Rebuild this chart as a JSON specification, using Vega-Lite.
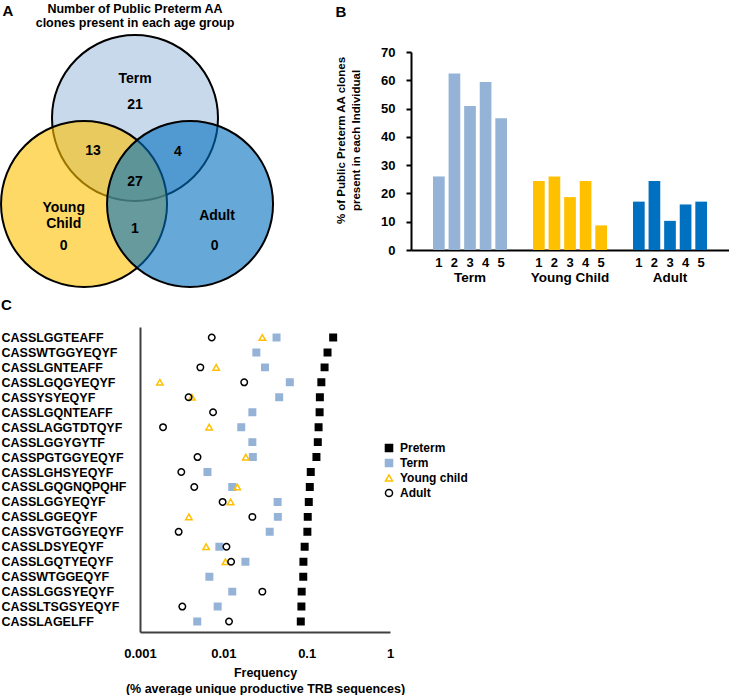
{
  "$schema": "https://vega.github.io/schema/vega-lite/v6.json",
  "padding": {"left": -3, "top": 2, "right": 0, "bottom": 0},
  "config": {
    "font": "Liberation Sans",
    "view": {"stroke": null},
    "axis": {"labelColor": "black", "titleColor": "black", "grid": false},
    "legend": {"orient": "none", "legendX": 243, "legendY": 115, "labelFontSize": 12, "labelFontWeight": "bold", "labelColor": "black", "symbolSize": 50, "symbolStrokeWidth": 1.5, "rowPadding": 1, "labelOffset": 5}
  },
  "spacing": 7,
  "resolve": {"scale": {"fill": "independent", "stroke": "independent", "shape": "independent", "color": "independent"}},
  "vconcat": [
    {
      "spacing": 29,
      "resolve": {"scale": {"fill": "independent", "color": "independent"}},
      "hconcat": [
        {
          "width": 166,
          "height": 166,
          "layer": [
            {
              "data": {"values": [
                {"set": "Term", "u": 0, "v": 0},
                {"set": "Young Child", "u": -0.614, "v": -1.036},
                {"set": "Adult", "u": 0.663, "v": -1.036}
              ]},
              "mark": {"type": "point", "shape": "circle", "size": 27556, "filled": true, "fillOpacity": 0.6, "opacity": 1, "stroke": "black", "strokeWidth": 2, "strokeOpacity": 1},
              "encoding": {
                "x": {"field": "u", "type": "quantitative", "scale": {"domain": [0.0602, 2.0602], "nice": false, "zero": false}, "axis": null},
                "y": {"field": "v", "type": "quantitative", "scale": {"domain": [-1.205, 0.795], "nice": false, "zero": false}, "axis": null},
                "fill": {"field": "set", "type": "nominal", "scale": {"domain": ["Term", "Young Child", "Adult"], "range": ["#a5bfdf", "#ffc000", "#0070c0"]}, "legend": null}
              }
            },
            {
              "data": {"values": [
                {"t": "Term", "u": 0, "v": 0.464},
                {"t": "21", "u": 0, "v": 0.153},
                {"t": "13", "u": -0.506, "v": -0.401},
                {"t": "4", "u": 0.518, "v": -0.41},
                {"t": "27", "u": 0, "v": -0.775},
                {"t": "Young", "u": -0.859, "v": -1.084},
                {"t": "Child", "u": -0.859, "v": -1.277},
                {"t": "0", "u": -0.859, "v": -1.542},
                {"t": "1", "u": 0, "v": -1.337},
                {"t": "Adult", "u": 0.988, "v": -1.184},
                {"t": "0", "u": 0.96, "v": -1.542}
              ]},
              "mark": {"type": "text", "fontSize": 14, "fontWeight": "bold", "color": "black"},
              "encoding": {
                "x": {"field": "u", "type": "quantitative", "axis": null},
                "y": {"field": "v", "type": "quantitative", "axis": null},
                "text": {"field": "t"}
              }
            },
            {
              "data": {"values": [
                {"t": "Number of Public Preterm AA", "u": 0, "v": 1.319},
                {"t": "clones present in each age group", "u": 0, "v": 1.139}
              ]},
              "mark": {"type": "text", "fontSize": 12.5, "fontWeight": "bold", "color": "black"},
              "encoding": {
                "x": {"field": "u", "type": "quantitative", "axis": null},
                "y": {"field": "v", "type": "quantitative", "axis": null},
                "text": {"field": "t"}
              }
            },
            {
              "data": {"values": [{"t": "A", "u": -1.53, "v": 1.289}]},
              "mark": {"type": "text", "fontSize": 15, "fontWeight": "bold", "color": "black"},
              "encoding": {
                "x": {"field": "u", "type": "quantitative", "axis": null},
                "y": {"field": "v", "type": "quantitative", "axis": null},
                "text": {"field": "t"}
              }
            }
          ]
        },
        {
          "width": 318,
          "height": 198,
          "title": {"text": "B", "anchor": "start", "frame": "bounds", "fontSize": 15, "fontWeight": "bold", "offset": 26},
          "data": {"values": [
            {"group": "Term", "ind": "1", "pct": 26},
            {"group": "Term", "ind": "2", "pct": 62.4},
            {"group": "Term", "ind": "3", "pct": 50.9},
            {"group": "Term", "ind": "4", "pct": 59.4},
            {"group": "Term", "ind": "5", "pct": 46.6},
            {"group": "Young Child", "ind": "1", "pct": 24.4},
            {"group": "Young Child", "ind": "2", "pct": 26},
            {"group": "Young Child", "ind": "3", "pct": 18.7},
            {"group": "Young Child", "ind": "4", "pct": 24.4},
            {"group": "Young Child", "ind": "5", "pct": 8.7},
            {"group": "Adult", "ind": "1", "pct": 17.1},
            {"group": "Adult", "ind": "2", "pct": 24.4},
            {"group": "Adult", "ind": "3", "pct": 10.3},
            {"group": "Adult", "ind": "4", "pct": 16.1},
            {"group": "Adult", "ind": "5", "pct": 17.1}
          ]},
          "encoding": {
            "x": {"field": "group", "type": "nominal", "sort": ["Term", "Young Child", "Adult"], "scale": {"paddingInner": 0.26, "paddingOuter": 0.22},
                  "axis": {"title": null, "labelAngle": 0, "ticks": false, "labelPadding": 20, "labelFontSize": 13.5, "labelFontWeight": "bold", "domainColor": "black", "domainWidth": 2}},
            "xOffset": {"field": "ind", "type": "nominal", "scale": {"paddingInner": 0.25, "paddingOuter": 0}},
            "y": {"field": "pct", "type": "quantitative", "scale": {"domain": [0, 70], "nice": false},
                  "axis": {"title": ["% of Public Preterm AA clones", "present in each Individual"], "titleFontSize": 11.5, "titleFontWeight": "bold", "titleLineHeight": 15, "titlePadding": 19, "titleY": 88,
                           "values": [0, 10, 20, 30, 40, 50, 60, 70], "labelOverlap": false, "labelFontSize": 13, "labelFontWeight": "bold", "labelPadding": 11, "tickSize": 5, "tickWidth": 2, "tickColor": "black", "domainColor": "black", "domainWidth": 2}}
          },
          "layer": [
            {
              "mark": {"type": "bar"},
              "encoding": {
                "color": {"field": "group", "type": "nominal", "scale": {"domain": ["Term", "Young Child", "Adult"], "range": ["#95b3d7", "#ffc000", "#0070c0"]}, "legend": null}
              }
            },
            {
              "mark": {"type": "text", "dy": 13, "fontSize": 13, "fontWeight": "bold", "baseline": "middle", "color": "black", "y": "height"},
              "encoding": {
                "y": null,
                "text": {"field": "ind"}
              }
            }
          ]
        }
      ]
    },
    {
      "width": 250,
      "height": 305,
      "title": {"text": "C", "anchor": "start", "frame": "bounds", "fontSize": 15, "fontWeight": "bold", "offset": 14},
      "data": {"values": [
        {"seq": "CASSLGGTEAFF", "Preterm": 0.208, "Term": 0.0435, "Young child": 0.0294, "Adult": 0.00726},
        {"seq": "CASSWTGGYEQYF", "Preterm": 0.178, "Term": 0.0249, "Young child": null, "Adult": null},
        {"seq": "CASSLGNTEAFF", "Preterm": 0.164, "Term": 0.0316, "Young child": 0.0082, "Adult": 0.0053},
        {"seq": "CASSLGQGYEQYF", "Preterm": 0.15, "Term": 0.0628, "Young child": 0.00173, "Adult": 0.0178},
        {"seq": "CASSYSYEQYF", "Preterm": 0.144, "Term": 0.0468, "Young child": 0.0042, "Adult": 0.00383},
        {"seq": "CASSLGQNTEAFF", "Preterm": 0.143, "Term": 0.0223, "Young child": null, "Adult": 0.00753},
        {"seq": "CASSLAGGTDTQYF", "Preterm": 0.139, "Term": 0.0164, "Young child": 0.00676, "Adult": 0.00189},
        {"seq": "CASSLGGYGYTF", "Preterm": 0.136, "Term": 0.0223, "Young child": null, "Adult": null},
        {"seq": "CASSPGTGGYEQYF", "Preterm": 0.131, "Term": 0.0226, "Young child": 0.0186, "Adult": 0.0049},
        {"seq": "CASSLGHSYEQYF", "Preterm": 0.112, "Term": 0.00645, "Young child": null, "Adult": 0.00313},
        {"seq": "CASSLGQGNQPQHF", "Preterm": 0.109, "Term": 0.0128, "Young child": 0.0147, "Adult": 0.00448},
        {"seq": "CASSLGGYEQYF", "Preterm": 0.106, "Term": 0.0448, "Young child": 0.0122, "Adult": 0.0098},
        {"seq": "CASSLGGEQYF", "Preterm": 0.103, "Term": 0.0451, "Young child": 0.00386, "Adult": 0.0223},
        {"seq": "CASSVGTGGYEQYF", "Preterm": 0.102, "Term": 0.036, "Young child": null, "Adult": 0.00291},
        {"seq": "CASSLDSYEQYF", "Preterm": 0.0946, "Term": 0.00896, "Young child": 0.00622, "Adult": 0.0109},
        {"seq": "CASSLGQTYEQYF", "Preterm": 0.0914, "Term": 0.0184, "Young child": 0.0106, "Adult": 0.0124},
        {"seq": "CASSWTGGEQYF", "Preterm": 0.091, "Term": 0.0068, "Young child": null, "Adult": null},
        {"seq": "CASSLGGSYEQYF", "Preterm": 0.0871, "Term": 0.0128, "Young child": null, "Adult": 0.0294},
        {"seq": "CASSLTSGSYEQYF", "Preterm": 0.0865, "Term": 0.00855, "Young child": null, "Adult": 0.00322},
        {"seq": "CASSLAGELFF", "Preterm": 0.085, "Term": 0.00486, "Young child": null, "Adult": 0.0117}
      ]},
      "transform": [
        {"fold": ["Preterm", "Term", "Young child", "Adult"], "as": ["group", "freq"]},
        {"filter": "datum.freq != null"}
      ],
      "mark": {"type": "point", "size": 42, "strokeWidth": 1.5, "opacity": 1},
      "encoding": {
        "x": {"field": "freq", "type": "quantitative", "scale": {"type": "log", "domain": [0.001, 1], "nice": false},
              "axis": {"values": [0.001, 0.01, 0.1, 1], "labelExpr": "'' + datum.value", "ticks": false, "labelPadding": 15, "labelFontSize": 13, "labelFontWeight": "bold", "labelFlush": false,
                       "domainColor": "#404040", "domainWidth": 2, "title": ["Frequency", "(% average unique productive TRB sequences)"], "titleFontSize": 12.5, "titleFontWeight": "bold", "titlePadding": 6, "titleLineHeight": 16}},
        "y": {"field": "seq", "type": "nominal", "sort": ["CASSLGGTEAFF", "CASSWTGGYEQYF", "CASSLGNTEAFF", "CASSLGQGYEQYF", "CASSYSYEQYF", "CASSLGQNTEAFF", "CASSLAGGTDTQYF", "CASSLGGYGYTF", "CASSPGTGGYEQYF", "CASSLGHSYEQYF", "CASSLGQGNQPQHF", "CASSLGGYEQYF", "CASSLGGEQYF", "CASSVGTGGYEQYF", "CASSLDSYEQYF", "CASSLGQTYEQYF", "CASSWTGGEQYF", "CASSLGGSYEQYF", "CASSLTSGSYEQYF", "CASSLAGELFF"],
              "scale": {"type": "point", "padding": 0.7},
              "axis": {"title": null, "labelAlign": "left", "labelPadding": 139, "ticks": false, "labelFontSize": 12.5, "labelFontWeight": "bold", "domainColor": "#404040", "domainWidth": 2}},
        "shape": {"field": "group", "type": "nominal", "scale": {"domain": ["Preterm", "Term", "Young child", "Adult"], "range": ["square", "square", "triangle-up", "circle"]}, "legend": {"title": null}},
        "fill": {"field": "group", "type": "nominal", "scale": {"domain": ["Preterm", "Term", "Young child", "Adult"], "range": ["black", "#95b3d7", "transparent", "transparent"]}, "legend": {"title": null}},
        "stroke": {"field": "group", "type": "nominal", "scale": {"domain": ["Preterm", "Term", "Young child", "Adult"], "range": ["black", "#95b3d7", "#ffc000", "black"]}, "legend": {"title": null}}
      }
    }
  ]
}
